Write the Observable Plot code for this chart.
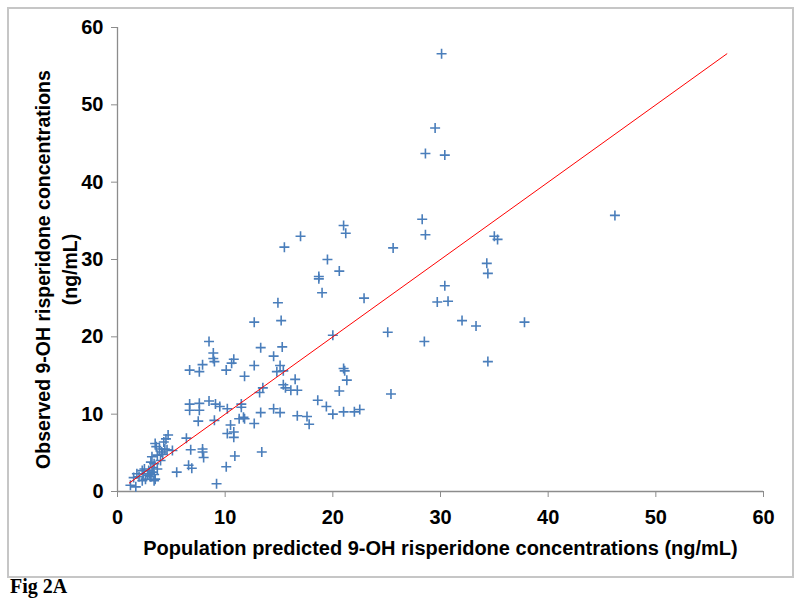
<!DOCTYPE html>
<html>
<head>
<meta charset="utf-8">
<script src="https://cdn.jsdelivr.net/npm/d3@7"></script>
<script src="https://cdn.jsdelivr.net/npm/@observablehq/plot@0.6"></script>
<style>
  html, body { margin: 0; padding: 0; background: #fff; }
  #wrap { position: relative; width: 800px; height: 608px; overflow: hidden; }
  #frame { position: absolute; left: 7px; top: 7px; width: 783px; height: 567px; border: 2px solid #c6c6c6; pointer-events: none; }
  #fig { position: absolute; left: 10px; top: 575px; font-family: "Liberation Serif", serif; font-weight: bold; font-size: 20px; color: #000; }
  #chart { position: absolute; left: 0; top: 0; }
</style>
</head>
<body>
<div id="wrap">
  <div id="chart"></div>
  <div id="frame"></div>
  <div id="fig">Fig 2A</div>
</div>
<script>
// Population predicted concentrations (x) and observed concentrations (y), ng/mL
const predicted = [
  30.1, 29.5, 28.6, 30.4, 46.2, 28.3, 28.6, 21.0, 21.2, 17.0,
  15.5, 25.6, 19.5, 20.6, 18.7, 18.7, 19.0, 22.9, 14.9, 35.0,
  35.3, 34.3, 34.4, 30.4, 29.7, 30.7, 32.0, 33.3, 37.8, 25.1,
  28.5, 34.4, 12.7, 15.2, 20.0, 13.3, 15.3, 14.5, 12.7, 15.1,
  11.8, 14.8, 15.4, 21.0, 21.1, 21.3, 16.5, 15.4, 15.6, 16.1,
  16.7, 13.5, 13.2, 20.6, 25.4, 11.5, 11.5, 18.6, 19.4, 20.0,
  21.0, 22.0, 22.5, 14.5, 15.1, 13.3, 11.7, 16.7, 17.6, 17.8,
  12.7, 13.4, 8.5, 8.9, 8.9, 9.0, 10.8, 10.6, 7.9, 7.6,
  6.7, 10.1, 6.7, 6.7, 7.6, 7.6, 8.5, 9.1, 9.5, 7.5,
  9.0, 10.2, 11.3, 11.8, 10.5, 10.8, 10.8, 10.2, 10.9, 10.1,
  6.4, 6.8, 7.9, 7.9, 8.0, 6.6, 6.9, 5.5, 9.2,
  4.7, 4.5, 3.5, 4.3, 3.9, 4.4, 4.6, 4.1, 3.2, 3.7,
  5.1, 3.1, 3.4, 3.3, 2.9, 3.2, 3.4, 3.5, 3.4, 2.3,
  2.4, 1.8, 2.0, 2.6, 2.8, 2.3, 1.2, 1.7, 3.1, 3.7,
  4.0, 3.6, 4.2, 2.5, 3.0, 1.5
];
const observed = [
  56.6, 47.0, 43.7, 43.5, 35.7, 35.2, 33.2, 34.4, 33.4, 33.0,
  31.6, 31.5, 30.0, 28.5, 27.8, 27.5, 25.7, 25.0, 24.4, 33.0,
  32.6, 29.5, 28.2, 26.6, 24.5, 24.6, 22.1, 21.4, 21.9, 20.6,
  19.4, 16.8, 21.9, 22.1, 20.2, 18.6, 18.7, 17.5, 16.3, 16.3,
  14.9, 15.5, 15.6, 15.9, 15.6, 14.4, 14.5, 13.8, 13.4, 13.1,
  13.1, 13.4, 12.8, 13.0, 12.6, 11.3, 10.9, 11.8, 11.0, 10.0,
  10.3, 10.3, 10.6, 10.7, 10.2, 10.2, 9.6, 9.8, 9.7, 8.7,
  8.8, 5.1, 19.4, 17.9, 17.2, 16.8, 17.1, 16.6, 16.4, 15.5,
  15.7, 15.7, 11.3, 10.5, 11.4, 10.5, 11.7, 11.3, 11.0, 9.1,
  9.2, 10.7, 9.4, 9.4, 8.6, 7.0, 7.7, 7.5, 4.6, 3.2,
  6.9, 5.4, 5.5, 5.1, 4.4, 3.4, 3.0, 2.5, 1.0,
  7.3, 6.8, 6.2, 6.4, 5.5, 5.5, 5.4, 5.1, 4.5, 4.7,
  5.3, 3.8, 3.6, 3.1, 2.7, 2.5, 2.2, 1.6, 1.4, 2.7,
  2.3, 2.3, 1.9, 1.6, 2.1, 1.4, 0.8, 0.6, 1.9, 2.9,
  4.0, 5.8, 4.8, 2.9, 2.3, 1.8
];
// Line of identity (y = x) end points
const identityEnds = [1.1, 56.6];
const axisTicks = [0, 10, 20, 30, 40, 50, 60];
const xTitle = "Population predicted 9-OH risperidone concentrations (ng/mL)";
const yTitle = "Observed 9-OH risperidone concentrations\n(ng/mL)";

const points = predicted.map((p, i) => ({pred: p, obs: observed[i]}));
const identity = identityEnds.map(v => ({pred: v, obs: v}));

const plusSymbol = {
  draw(context, size) {
    const r = 5;
    context.moveTo(-r, 0); context.lineTo(r, 0);
    context.moveTo(0, -r); context.lineTo(0, r);
  }
};

const chart = Plot.plot({
  width: 800,
  height: 608,
  marginLeft: 117,
  marginRight: 37,
  marginTop: 27,
  marginBottom: 117,
  style: {fontFamily: "'Liberation Sans', Arial, sans-serif", background: "white", overflow: "visible"},
  x: {domain: [0, 60]},
  y: {domain: [0, 60]},
  marks: [
    Plot.ruleX([0], {stroke: "#8c8c8c", strokeWidth: 1.3}),
    Plot.ruleY([0], {stroke: "#8c8c8c", strokeWidth: 1.3}),
    Plot.axisY({ticks: axisTicks, tickSize: 6, tickPadding: 8, stroke: "#8c8c8c", fill: "#000",
      fontSize: 20, fontWeight: "bold", label: null}),
    Plot.axisX({ticks: axisTicks, tickSize: 6, tickPadding: 12, stroke: "#8c8c8c", fill: "#000",
      fontSize: 20, fontWeight: "bold", label: null}),
    Plot.dot(points, {x: "pred", y: "obs", symbol: plusSymbol, stroke: "#4a7ebb", strokeWidth: 1.6, r: 5}),
    Plot.line(identity, {x: "pred", y: "obs", stroke: "#ff0000", strokeWidth: 1}),
    Plot.text([xTitle], {frameAnchor: "bottom", dy: 57, fontSize: 20, fontWeight: "bold", fill: "#000", lineAnchor: "middle"}),
    Plot.text([yTitle], {frameAnchor: "left", dx: -63, dy: 10, rotate: -90, textAnchor: "middle", fontSize: 19.5, fontWeight: "bold", fill: "#000", lineAnchor: "middle", lineHeight: 1.4})
  ]
});
document.getElementById("chart").appendChild(chart);
</script>
</body>
</html>
